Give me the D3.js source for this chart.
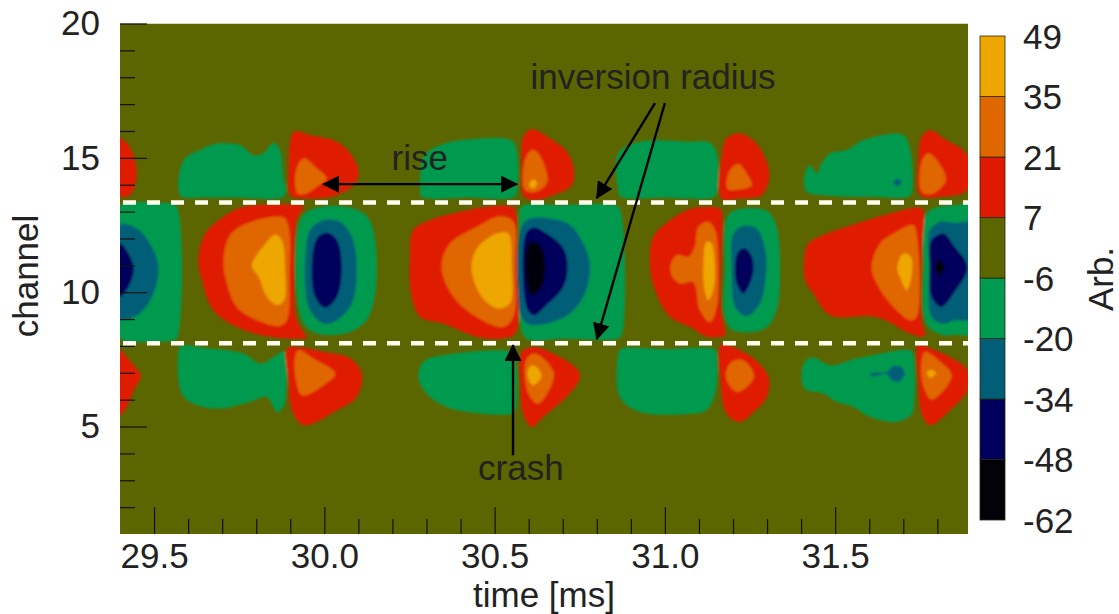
<!DOCTYPE html>
<html>
<head>
<meta charset="utf-8">
<script src="https://cdn.jsdelivr.net/npm/d3@7"></script>
<style>
  html, body { margin: 0; background: #fff; }
  text { font-family: "Liberation Sans", Arial, sans-serif; fill: #222; }
</style>
</head>
<body>
<svg id="chart" width="1119" height="614"></svg>
<script>
// contour levels and the colour of the band above each one
const levels = [-62, -48, -34, -20, -6, 7, 21, 35, 49];
const bandColors = ["#020208", "#00005c", "#005e76", "#009a50", "#5c6600", "#e01a00", "#e06600", "#eea600"];

const xTicks = [29.5, 30.0, 30.5, 31.0, 31.5];
const xMinorTicks = [29.6, 29.7, 29.8, 29.9, 30.1, 30.2, 30.3, 30.4, 30.6, 30.7, 30.8, 30.9, 31.1, 31.2, 31.3, 31.4, 31.6, 31.7, 31.8];
const yTicks = [5, 10, 15, 20];
const yMinorTicks = [2, 3, 4, 6, 7, 8, 9, 11, 12, 13, 14, 16, 17, 18, 19];

const inversionChannels = [13.34, 8.1];

// outlines of the filled contours as [time ms, channel]
const band7to21 = [
  [[29.40,15.72],[29.425,15.47],[29.441,15.04],[29.449,14.42],[29.441,13.86],[29.425,13.58],[29.40,13.58]],
  [[29.40,7.84],[29.42,7.59],[29.44,7.28],[29.461,6.90],[29.44,6.35],[29.42,5.73],[29.40,5.42]],
  [[29.90,13.61],[29.895,14.54],[29.911,15.97],[29.958,15.85],[30.037,15.6],[30.076,15.17],[30.10,14.54],[30.091,14.05],[30.037,13.61],[29.949,13.49]],
  [[29.65,12.18],[29.704,12.81],[29.763,13.18],[29.93,13.24],[29.939,13.2],[29.919,12.68],[29.911,10.94],[29.919,8.96],[29.949,8.3],[29.94,8.27],[29.841,8.34],[29.753,8.65],[29.674,9.33],[29.64,10.45],[29.63,11.19]],
  [[29.89,7.9],[29.919,7.96],[29.998,7.78],[30.076,7.53],[30.11,6.97],[30.095,6.1],[30.037,5.61],[29.939,5.05],[29.905,5.61],[29.895,6.72]],
  [[30.584,13.61],[30.579,14.79],[30.584,15.79],[30.609,16.06],[30.663,15.72],[30.712,15.23],[30.733,14.54],[30.726,13.98],[30.672,13.61],[30.609,13.43]],
  [[30.251,11.19],[30.261,12.31],[30.31,12.68],[30.398,12.99],[30.486,13.2],[30.55,13.2],[30.56,13.1],[30.565,10.94],[30.56,8.46],[30.516,8.27],[30.447,8.34],[30.349,8.83],[30.281,9.08],[30.256,9.83]],
  [[30.579,7.78],[30.614,7.96],[30.672,7.72],[30.741,7.16],[30.751,6.85],[30.721,6.23],[30.643,5.36],[30.609,4.98],[30.584,5.48],[30.576,6.6]],
  [[31.166,13.49],[31.168,15.17],[31.181,15.72],[31.22,15.91],[31.264,15.6],[31.299,14.85],[31.306,14.23],[31.284,13.61],[31.22,13.49]],
  [[31.166,8.09],[31.201,7.96],[31.26,7.53],[31.304,6.85],[31.299,6.1],[31.25,5.42],[31.22,5.17],[31.181,5.48],[31.164,6.6]],
  [[30.956,11.07],[30.966,12.06],[31.015,12.68],[31.074,13.1],[31.155,13.15],[31.166,13.05],[31.166,11.44],[31.164,9.45],[31.176,8.4],[31.165,8.34],[31.122,8.34],[31.074,8.71],[31.015,9.08],[30.971,10.07]],
  [[31.749,13.61],[31.744,14.92],[31.754,15.79],[31.778,16.03],[31.827,15.66],[31.888,15.1],[31.888,13.8],[31.818,13.55]],
  [[31.744,8.09],[31.769,7.96],[31.837,7.59],[31.888,7.1],[31.888,6.35],[31.837,5.61],[31.778,5.05],[31.754,5.48],[31.744,6.72]],
  [[31.411,11.44],[31.421,11.81],[31.475,12.18],[31.563,12.56],[31.661,12.93],[31.75,13.15],[31.759,13.05],[31.754,11.44],[31.754,8.96],[31.764,8.4],[31.755,8.34],[31.72,8.46],[31.622,9.08],[31.485,9.14],[31.436,9.95],[31.413,10.4],[31.408,10.94]]
];

const band21to35 = [
  [[29.921,13.67],[29.917,14.54],[29.939,14.98],[29.978,14.61],[30.007,14.23],[29.978,13.92],[29.944,13.65]],
  [[29.704,11.19],[29.723,12.12],[29.772,12.56],[29.88,12.78],[29.895,12.43],[29.898,10.82],[29.89,8.96],[29.87,8.75],[29.802,8.96],[29.743,9.45],[29.714,10.32]],
  [[29.914,7.59],[29.924,7.84],[29.968,7.53],[30.032,6.97],[29.998,6.54],[29.934,6.16],[29.917,6.72]],
  [[30.589,13.8],[30.589,14.92],[30.609,15.29],[30.628,15.17],[30.655,14.11],[30.623,13.74]],
  [[30.344,10.94],[30.369,11.81],[30.447,12.43],[30.516,12.83],[30.555,12.62],[30.56,10.94],[30.555,9.08],[30.525,8.71],[30.447,9.08],[30.379,9.83]],
  [[30.592,7.47],[30.618,7.72],[30.674,6.97],[30.628,5.85],[30.599,6.23]],
  [[31.181,14.05],[31.191,14.54],[31.215,14.77],[31.24,14.42],[31.255,13.98],[31.22,13.82],[31.186,13.82]],
  [[31.179,6.97],[31.196,7.41],[31.23,7.47],[31.262,6.9],[31.24,6.47],[31.211,6.29],[31.186,6.6]],
  [[31.017,11.0],[31.035,11.38],[31.069,11.32],[31.088,11.69],[31.098,12.43],[31.127,12.62],[31.147,12.31],[31.157,10.94],[31.15,9.33],[31.132,8.89],[31.103,9.33],[31.083,10.38],[31.044,10.32],[31.02,10.63]],
  [[31.754,13.74],[31.754,14.85],[31.773,15.17],[31.798,14.92],[31.825,14.17],[31.783,13.65]],
  [[31.754,7.47],[31.764,7.78],[31.803,7.47],[31.842,6.9],[31.783,6.0],[31.757,6.6]],
  [[31.607,10.94],[31.632,11.81],[31.671,12.18],[31.729,12.5],[31.739,12.18],[31.739,9.08],[31.72,8.96],[31.671,9.45],[31.627,10.2]]
];

const band35to49 = [
  [[29.787,10.97],[29.831,11.87],[29.856,12.15],[29.875,11.94],[29.885,10.82],[29.882,9.7],[29.861,9.52],[29.831,9.83],[29.807,10.57]],
  [[30.601,13.98],[30.614,14.2],[30.625,14.05],[30.614,13.86]],
  [[30.432,10.94],[30.452,11.69],[30.506,12.18],[30.54,12.18],[30.55,10.94],[30.545,9.58],[30.511,9.39],[30.462,9.83]],
  [[30.599,7.16],[30.614,7.28],[30.638,6.9],[30.614,6.54],[30.599,6.78]],
  [[31.113,11.07],[31.122,11.87],[31.137,11.81],[31.147,10.94],[31.142,10.07],[31.127,9.7],[31.115,10.2]],
  [[31.769,6.97],[31.78,7.12],[31.796,6.97],[31.78,6.82]],
  [[31.682,10.88],[31.7,11.44],[31.722,11.32],[31.725,10.69],[31.71,10.07],[31.692,10.51]]
];

const bandM20toM6 = [
  [[29.40,13.2],[29.41,13.3],[29.55,13.3],[29.567,13.2],[29.568,8.3],[29.555,8.2],[29.41,8.2],[29.40,8.3]],
  [[29.58,13.55],[29.572,13.8],[29.572,14.29],[29.591,14.98],[29.635,15.29],[29.674,15.51],[29.753,15.47],[29.792,15.10],[29.821,15.17],[29.851,15.56],[29.870,15.29],[29.880,14.29],[29.888,13.8],[29.88,13.55],[29.73,13.52],[29.65,13.52]],
  [[29.58,8.0],[29.572,7.8],[29.581,6.23],[29.616,5.85],[29.694,5.67],[29.782,5.92],[29.831,6.10],[29.861,5.54],[29.88,5.73],[29.885,7.7],[29.878,7.8],[29.851,7.59],[29.812,7.34],[29.763,7.71],[29.665,7.9]],
  [[29.919,12.06],[29.934,12.81],[29.978,13.15],[30.076,13.15],[30.13,12.74],[30.154,10.94],[30.13,9.08],[30.076,8.52],[29.978,8.46],[29.939,8.83],[29.919,9.95]],
  [[30.285,13.55],[30.281,13.8],[30.281,14.29],[30.291,15.04],[30.339,15.47],[30.428,15.69],[30.54,15.69],[30.56,15.5],[30.565,13.7],[30.555,13.52],[30.42,13.52]],
  [[30.276,6.85],[30.291,7.41],[30.349,7.65],[30.55,7.78],[30.56,7.6],[30.56,5.6],[30.55,5.48],[30.467,5.48],[30.359,5.73],[30.30,6.23]],
  [[30.572,12.43],[30.574,13.1],[30.585,13.24],[30.7,13.24],[30.855,13.24],[30.868,13.1],[30.873,8.4],[30.86,8.27],[30.7,8.27],[30.594,8.27],[30.574,8.96]],
  [[30.87,13.55],[30.863,13.8],[30.863,15.17],[30.927,15.6],[31.074,15.6],[31.132,15.56],[31.152,15.17],[31.154,13.8],[31.145,13.55],[31.0,13.52]],
  [[30.87,7.88],[30.863,7.7],[30.868,6.1],[30.927,5.54],[31.074,5.48],[31.122,5.61],[31.147,6.23],[31.152,7.7],[31.145,7.88],[31.0,7.88]],
  [[31.176,10.94],[31.179,12.68],[31.201,13.03],[31.299,13.03],[31.328,12.43],[31.338,10.94],[31.328,9.33],[31.294,8.65],[31.201,8.58],[31.176,9.08]],
  [[31.411,13.86],[31.411,14.42],[31.426,14.73],[31.446,14.42],[31.46,14.79],[31.485,15.17],[31.534,15.29],[31.583,15.66],[31.7,15.85],[31.72,15.29],[31.725,13.7],[31.715,13.55],[31.6,13.55],[31.494,13.58],[31.42,13.7]],
  [[31.401,6.9],[31.411,7.41],[31.436,7.57],[31.485,7.28],[31.563,7.53],[31.72,7.84],[31.729,7.7],[31.729,5.6],[31.72,5.4],[31.68,5.17],[31.602,5.36],[31.553,5.73],[31.504,5.92],[31.465,6.23],[31.411,6.41]],
  [[31.759,10.94],[31.764,12.81],[31.788,13.12],[31.85,13.24],[31.9,13.24],[31.9,8.46],[31.85,8.42],[31.818,8.4],[31.778,8.65],[31.761,9.08]]
];

const bandM34toM20 = [
  [[29.40,12.50],[29.449,12.37],[29.488,11.81],[29.513,10.94],[29.498,9.95],[29.464,9.27],[29.43,9.02],[29.40,9.02]],
  [[29.944,11.19],[29.958,12.31],[29.998,12.68],[30.046,12.62],[30.081,12.06],[30.095,10.94],[30.081,9.58],[30.037,8.96],[29.998,8.83],[29.958,9.33],[29.944,10.2]],
  [[30.579,12.43],[30.604,12.74],[30.663,12.74],[30.721,12.5],[30.765,11.69],[30.78,10.94],[30.765,9.95],[30.721,9.21],[30.653,8.83],[30.599,8.81],[30.576,9.21]],
  [[31.196,10.94],[31.201,12.18],[31.23,12.46],[31.269,12.37],[31.294,11.63],[31.297,10.69],[31.279,9.58],[31.24,9.11],[31.206,9.45]],
  [[31.671,14.09],[31.682,14.23],[31.695,14.09],[31.682,13.95]],
  [[31.602,6.97],[31.651,7.03],[31.666,7.22],[31.69,7.24],[31.705,6.97],[31.685,6.66],[31.661,6.78],[31.651,6.95],[31.607,6.87]],
  [[31.776,10.94],[31.778,12.31],[31.808,12.62],[31.85,12.58],[31.9,12.56],[31.9,9.02],[31.85,8.95],[31.818,8.83],[31.783,9.08]]
];

const bandM48toM34 = [
  [[29.40,11.81],[29.425,11.44],[29.44,10.88],[29.425,10.2],[29.40,9.83]],
  [[29.963,10.94],[29.978,12.0],[30.007,12.21],[30.037,11.94],[30.051,10.94],[30.037,9.83],[30.002,9.42],[29.973,9.83]],
  [[30.592,12.18],[30.614,12.41],[30.653,12.18],[30.702,11.63],[30.714,10.94],[30.702,10.2],[30.653,9.52],[30.614,9.14],[30.594,9.45]],
  [[31.206,10.94],[31.215,11.5],[31.235,11.63],[31.255,11.32],[31.26,10.82],[31.245,10.2],[31.23,9.95],[31.211,10.32]],
  [[31.778,10.94],[31.783,11.94],[31.818,12.18],[31.847,11.75],[31.888,10.94],[31.847,9.95],[31.812,9.45],[31.783,9.83]]
];

const bandM62toM48 = [
  [[30.594,11.63],[30.606,11.87],[30.633,11.75],[30.648,11.07],[30.638,10.2],[30.609,9.89],[30.594,10.32]],
  [[31.793,10.94],[31.808,11.19],[31.82,10.94],[31.808,10.63]]
];

// paint order and band index into bandColors
const paintOrder = [
  [bandM20toM6, 3], [bandM34toM20, 2], [bandM48toM34, 1], [bandM62toM48, 0],
  [band7to21, 5], [band21to35, 6], [band35to49, 7]
];

const svg = d3.select("#chart");
const plot = { left: 120, right: 968, top: 23.5, bottom: 534 };

const x = d3.scaleLinear().domain([29.4, 31.89]).range([plot.left, plot.right]);
const y = d3.scaleLinear().domain([1, 20]).range([plot.bottom, plot.top]);

svg.append("clipPath").attr("id", "plot-clip")
  .append("rect")
  .attr("x", plot.left).attr("y", plot.top)
  .attr("width", plot.right - plot.left).attr("height", plot.bottom - plot.top);

const defs = svg.append("defs");
defs.append("filter").attr("id", "soft")
  .attr("x", "-2%").attr("y", "-2%").attr("width", "104%").attr("height", "104%")
  .append("feGaussianBlur").attr("stdDeviation", 0.9);

defs.append("marker").attr("id", "head")
  .attr("viewBox", "0 0 16 16").attr("refX", 15).attr("refY", 8)
  .attr("markerUnits", "userSpaceOnUse")
  .attr("markerWidth", 17).attr("markerHeight", 17)
  .attr("orient", "auto-start-reverse")
  .append("path").attr("d", "M0,0L16,8L0,16Z").attr("fill", "#000");

// contours
const clipped = svg.append("g").attr("clip-path", "url(#plot-clip)");
clipped.append("rect")
  .attr("x", plot.left).attr("y", plot.top)
  .attr("width", plot.right - plot.left).attr("height", plot.bottom - plot.top)
  .attr("fill", bandColors[4]);

const outline = d3.line()
  .x((d) => x(d[0]))
  .y((d) => y(d[1]))
  .curve(d3.curveCatmullRomClosed.alpha(0.5));

const contours = clipped.append("g").attr("filter", "url(#soft)");
paintOrder.forEach(([regions, band]) => {
  contours.append("g")
    .selectAll("path")
    .data(regions)
    .join("path")
    .attr("d", outline)
    .attr("fill", bandColors[band]);
});

// axes, ticks point into the plot
const FONT = 35;
const axisStyle = (g) => {
  g.select(".domain").remove();
  g.selectAll("line").attr("stroke", "#111").attr("stroke-width", 1.2);
  g.selectAll("text").attr("font-size", FONT).attr("fill", "#222");
};

svg.append("g").attr("transform", `translate(0,${plot.bottom})`)
  .call(d3.axisBottom(x).tickValues(xTicks).tickFormat(d3.format(".1f")).tickSize(-27).tickPadding(9))
  .call(axisStyle);
svg.append("g").attr("transform", `translate(0,${plot.bottom})`)
  .call(d3.axisBottom(x).tickValues(xMinorTicks).tickFormat("").tickSize(-15))
  .call(axisStyle);
svg.append("g").attr("transform", `translate(${plot.left},0)`)
  .call(d3.axisLeft(y).tickValues(yTicks).tickFormat(d3.format("d")).tickSize(-27).tickPadding(20))
  .call(axisStyle);
svg.append("g").attr("transform", `translate(${plot.left},0)`)
  .call(d3.axisLeft(y).tickValues(yMinorTicks).tickFormat("").tickSize(-15))
  .call(axisStyle);

svg.append("text").attr("x", x(30.645)).attr("y", 607).attr("text-anchor", "middle")
  .attr("font-size", FONT).text("time [ms]");
svg.append("text").attr("transform", "translate(38,276) rotate(-90)").attr("text-anchor", "middle")
  .attr("font-size", FONT).text("channel");

// inversion radius
svg.append("g").selectAll("line")
  .data(inversionChannels)
  .join("line")
  .attr("x1", plot.left + 3).attr("x2", plot.right)
  .attr("y1", (d) => y(d)).attr("y2", (d) => y(d))
  .attr("stroke", "#fffff0").attr("stroke-width", 4.5)
  .attr("stroke-dasharray", "13 11");

// annotations
const arrows = [
  { from: [30.566, 14.02], to: [29.996, 14.02], both: true },
  { from: [30.554, 3.93], to: [30.554, 8.03] },
  { from: [30.971, 17.04], to: [30.80, 13.5] },
  { from: [31.0, 17.04], to: [30.80, 8.25] }
];
svg.append("g").selectAll("line")
  .data(arrows)
  .join("line")
  .attr("x1", (d) => x(d.from[0])).attr("y1", (d) => y(d.from[1]))
  .attr("x2", (d) => x(d.to[0])).attr("y2", (d) => y(d.to[1]))
  .attr("stroke", "#000").attr("stroke-width", 2.4)
  .attr("marker-end", "url(#head)")
  .attr("marker-start", (d) => (d.both ? "url(#head)" : null));

const notes = [
  { text: "rise", at: [30.28, 14.55] },
  { text: "crash", at: [30.577, 3.0] },
  { text: "inversion radius", at: [30.965, 17.56] }
];
svg.append("g").selectAll("text")
  .data(notes)
  .join("text")
  .attr("x", (d) => x(d.at[0])).attr("y", (d) => y(d.at[1]))
  .attr("text-anchor", "middle")
  .attr("font-size", FONT)
  .text((d) => d.text);

// colour bar, levels are evenly spaced on it
const barX = 980;
const barW = 25;
const barY = d3.scalePoint().domain(levels).range([520, 36]);
const barBands = d3.pairs(levels);

svg.append("g").selectAll("rect")
  .data(barBands)
  .join("rect")
  .attr("x", barX).attr("width", barW)
  .attr("y", (d) => barY(d[1]))
  .attr("height", (d) => barY(d[0]) - barY(d[1]))
  .attr("fill", (d, i) => bandColors[i])
  .attr("stroke", "#2a2a10").attr("stroke-width", 0.8);

svg.append("g").selectAll("text")
  .data(levels)
  .join("text")
  .attr("x", barX + 43)
  .attr("y", (d) => barY(d))
  .attr("dy", "0.36em")
  .attr("font-size", FONT)
  .text((d) => d);

svg.append("text").attr("transform", "translate(1113,279) rotate(-90)").attr("text-anchor", "middle")
  .attr("font-size", FONT).text("Arb.");
</script>
</body>
</html>
